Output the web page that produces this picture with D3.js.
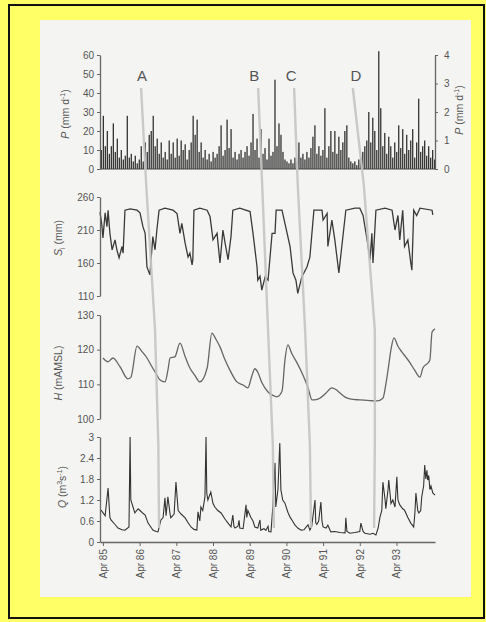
<!DOCTYPE html>
<html>
<head>
<meta charset="utf-8">
<script src="https://cdn.jsdelivr.net/npm/d3@7"></script>
<style>
  body { margin: 0; background: #ffff66; }
  text { font-family: "Liberation Sans", Arial, sans-serif; }
</style>
</head>
<body>
<script>
// rainfall, one bar per ~20 days, mm/d
const pValues = [10,28,12,20,8,12,24,9,16,6,10,5,7,28,6,8,4,7,3,5,
  12,4,14,9,18,20,28,12,16,8,14,6,9,5,15,8,14,6,16,7,
  15,10,13,5,10,14,28,18,26,9,14,6,10,5,8,4,9,6,8,12,
  23,7,10,26,11,21,6,9,5,8,10,6,9,12,7,14,29,10,16,6,
  21,8,11,5,16,7,9,47,12,24,18,9,5,4,3,5,3,6,4,14,
  6,8,5,9,6,11,17,23,8,12,7,10,32,6,12,20,9,20,8,17,
  10,14,20,23,6,4,3,4,2,5,6,9,12,15,30,14,27,20,10,62,
  32,12,19,8,17,12,6,14,9,23,11,21,8,18,10,15,21,6,14,37,
  9,12,15,7,12,6,10,5];

// soil storage S (mm)
const sTimes = [1985.17,1985.22,1985.25,1985.31,1985.36,1985.39,1985.44,1985.50,1985.58,1985.63,
  1985.69,1985.77,1985.80,1985.85,1985.99,1986.18,1986.26,1986.34,1986.40,1986.45,
  1986.53,1986.61,1986.67,1986.72,1986.78,1986.94,1987.16,1987.27,1987.35,1987.40,
  1987.49,1987.57,1987.62,1987.68,1987.70,1987.73,1987.89,1988.09,1988.17,1988.25,
  1988.36,1988.44,1988.52,1988.58,1988.66,1988.74,1988.79,1988.98,1989.26,1989.34,
  1989.45,1989.47,1989.53,1989.58,1989.67,1989.75,1989.86,1989.94,1989.97,1990.13,
  1990.21,1990.35,1990.43,1990.51,1990.56,1990.67,1990.81,1990.89,1991.00,1991.22,
  1991.25,1991.36,1991.38,1991.49,1991.57,1991.68,1991.76,1991.87,1992.12,1992.25,
  1992.34,1992.45,1992.53,1992.58,1992.61,1992.69,1992.94,1993.13,1993.21,1993.29,
  1993.34,1993.42,1993.47,1993.56,1993.64,1993.67,1993.72,1993.80,1993.89,1994.22,1994.24];
const sValues = [237,218,198,236,215,240,205,180,195,180,
  168,185,175,240,242,240,236,215,205,154,
  142,200,180,210,240,243,240,235,205,220,
  190,169,175,157,165,240,243,240,230,195,
  205,160,210,190,165,200,240,243,238,205,
  154,134,140,119,139,134,205,205,240,240,
  220,185,145,134,114,139,154,169,240,240,
  225,235,185,225,195,145,185,240,243,243,
  232,195,165,205,160,240,243,240,210,232,
  195,240,185,195,160,149,240,232,243,240,233];

// groundwater head H (m AMSL)
const hTimes = [1985.25,1985.39,1985.52,1985.72,1985.93,1986.01,1986.18,1986.31,1986.45,1986.59,
  1986.72,1986.80,1986.94,1987.02,1987.08,1987.21,1987.35,1987.49,1987.62,1987.76,
  1987.89,1988.09,1988.22,1988.33,1988.44,1988.58,1988.71,1988.90,1989.07,1989.20,
  1989.31,1989.39,1989.47,1989.58,1989.75,1989.88,1989.99,1990.13,1990.21,1990.29,
  1990.40,1990.54,1990.71,1990.84,1990.95,1991.06,1991.16,1991.33,1991.49,1991.60,
  1991.71,1991.85,1991.98,1992.25,1992.53,1992.72,1992.88,1992.96,1993.02,1993.10,
  1993.18,1993.29,1993.40,1993.51,1993.62,1993.75,1993.89,1993.97,1994.11,1994.16,1994.22,1994.30];
const hValues = [117.6,116.5,117.6,115,111.6,112,121,119.5,117.6,115,
  112.7,111.3,110.7,114,117.6,117.9,121.9,118,114.7,112.5,
  110.7,114.7,124.8,123,120.8,117,114.1,110.7,109.8,109,
  112.5,114.5,113.5,110.5,107.8,106.8,106.4,108,117,121.4,
  118.8,116.2,112.5,109,105.5,105.6,106,107.5,109,108.5,
  107.5,106.3,105.8,105.5,105.3,105.2,106,110,114.1,120,
  123.4,121,119.3,117.8,116.2,114,112.1,114.7,116.2,117,125.1,126];

// discharge Q (m3/s)
const qTimes = [1985.20,1985.31,1985.39,1985.44,1985.47,1985.58,1985.66,1985.77,1985.85,1985.96,
  1985.99,1986.01,1986.07,1986.12,1986.21,1986.26,1986.34,1986.40,1986.48,1986.56,
  1986.61,1986.70,1986.75,1986.83,1986.89,1986.94,1986.97,1987.02,1987.08,1987.10,
  1987.19,1987.24,1987.30,1987.38,1987.49,1987.57,1987.65,1987.73,1987.81,1987.84,
  1987.89,1987.92,1987.97,1988.03,1988.06,1988.08,1988.11,1988.19,1988.25,1988.30,
  1988.38,1988.47,1988.58,1988.66,1988.74,1988.79,1988.82,1988.85,1988.93,1988.96,
  1988.98,1989.07,1989.15,1989.17,1989.20,1989.28,1989.34,1989.39,1989.47,1989.53,
  1989.55,1989.64,1989.69,1989.75,1989.77,1989.83,1989.88,1989.94,1989.96,1990.02,
  1990.07,1990.10,1990.15,1990.21,1990.29,1990.35,1990.43,1990.48,1990.56,1990.65,
  1990.73,1990.78,1990.84,1990.89,1990.94,1991.03,1991.05,1991.08,1991.13,1991.19,
  1991.22,1991.25,1991.33,1991.38,1991.46,1991.57,1991.71,1991.85,1991.87,1991.90,
  1991.98,1992.12,1992.25,1992.28,1992.34,1992.39,1992.53,1992.61,1992.69,1992.75,
  1992.80,1992.85,1992.88,1992.94,1992.96,1993.02,1993.04,1993.10,1993.15,1993.21,
  1993.26,1993.29,1993.34,1993.42,1993.47,1993.56,1993.64,1993.72,1993.75,1993.78,
  1993.83,1993.86,1993.91,1993.94,1993.99,1994.02,1994.05,1994.08,1994.10,1994.13,
  1994.16,1994.19,1994.24,1994.30];
const qValues = [0.91,0.75,1.54,0.7,0.63,0.5,0.40,0.35,0.34,0.43,
  3.0,1.2,1.0,0.83,0.95,0.9,0.82,0.77,0.54,0.42,
  0.34,0.3,0.29,0.63,0.7,1.26,0.75,1.29,0.8,0.69,
  0.8,1.71,0.9,0.8,0.69,0.55,0.43,0.36,0.34,0.86,
  0.6,1.0,0.9,1.29,3.0,1.4,1.2,1.43,1.1,1.0,
  0.9,0.83,0.65,0.54,0.43,0.77,0.45,0.40,0.45,0.62,
  0.40,0.38,1.06,0.7,0.9,0.71,0.6,0.43,0.4,0.63,
  0.34,0.38,0.33,0.45,0.3,0.29,1.0,2.26,1.0,1.5,
  2.83,1.49,1.2,1.11,0.85,0.71,0.58,0.49,0.4,0.34,
  0.35,0.42,0.49,0.34,0.45,1.2,0.55,0.5,0.6,1.14,
  0.6,0.43,0.4,0.48,0.29,0.3,0.27,0.26,0.69,0.3,
  0.25,0.27,0.3,0.54,0.3,0.25,0.22,0.25,0.2,0.4,
  0.71,0.9,1.71,1.2,0.95,1.5,1.77,1.1,1.2,1.0,
  1.86,1.2,1.06,0.95,0.91,0.7,0.54,0.43,0.8,1.4,
  0.9,0.83,0.9,1.3,1.6,2.2,1.8,2.05,1.77,1.9,
  1.5,1.6,1.4,1.34];

const yearTicks = [1985,1986,1987,1988,1989,1990,1991,1992,1993];
const pTicks = [0,10,20,30,40,50,60];
const p2Ticks = [0,1,2,3,4];
const sTicks = [110,160,210,260];
const hTicks = [100,110,120,130];
const qTicks = [0,0.6,1.2,1.8,2.4,3];

// events A-D: time where the grey line crosses each level (top -> bottom)
const eventNames = ["A","B","C","D"];
const eventTimes = [
  [1986.29,1986.43,1986.67,1986.76,1986.78],
  [1989.48,1989.59,1989.75,1989.88,1989.91],
  [1990.46,1990.56,1990.76,1990.89,1990.92],
  [1992.06,1992.36,1992.66,1992.66,1992.64]
];

const W = 486, H = 622;
const svg = d3.select("body").append("svg").attr("width", W).attr("height", H);

// yellow sheet + black frame + grey photo
svg.append("rect").attr("x", 9).attr("y", 5).attr("width", W - 11).attr("height", H - 9)
  .attr("fill", "#ffff66").attr("stroke", "#111").attr("stroke-width", 2);
svg.append("rect").attr("x", 40).attr("y", 20).attr("width", 431).attr("height", 577)
  .attr("fill", "#f4f4f2");

const x = d3.scaleLinear().domain([1985.17, 1994.30]).range([100, 435]);
const yP = d3.scaleLinear().domain([0, 60]).range([169, 55]);
const yP2 = d3.scaleLinear().domain([0, 4]).range([169, 55]);
const yS = d3.scaleLinear().domain([110, 260]).range([296, 197]);
const yH = d3.scaleLinear().domain([100, 130]).range([419, 315]);
const yQ = d3.scaleLinear().domain([0, 3]).range([542, 437]);
const xb = d3.scaleBand().domain(d3.range(pValues.length)).range([100, 436]).padding(0.35);

function styleAxis(g) {
  g.attr("font-family", null).attr("font-size", null);
  g.selectAll("path, line").attr("stroke", "#666");
  g.select(".domain").attr("stroke-width", 1.3);
  g.selectAll("text").attr("fill", "#555").style("font-size", "10px");
}

// P bars
svg.append("g").selectAll("rect").data(pValues).enter()
  .append("rect")
  .attr("x", (d, i) => xb(i))
  .attr("y", d => yP(d))
  .attr("width", xb.bandwidth())
  .attr("height", d => yP(0) - yP(d))
  .attr("fill", "#333");

svg.append("line").attr("x1", x.range()[0]).attr("x2", x.range()[1])
  .attr("y1", yP(0)).attr("y2", yP(0)).attr("stroke", "#444");

svg.append("g").attr("transform", "translate(100,0)")
  .call(d3.axisLeft(yP).tickValues(pTicks).tickSize(3).tickPadding(3).tickSizeOuter(0))
  .call(styleAxis);
svg.append("g").attr("transform", "translate(435,0)")
  .call(d3.axisRight(yP2).tickValues(p2Ticks).tickSize(3).tickPadding(6).tickSizeOuter(0)
    .tickFormat(d3.format("d")))
  .call(styleAxis);

// S line
svg.append("path").datum(sTimes.map((t, i) => [t, sValues[i]]))
  .attr("d", d3.line().x(d => x(d[0])).y(d => yS(d[1])))
  .attr("fill", "none").attr("stroke", "#3a3a3a").attr("stroke-width", 1.3);
svg.append("g").attr("transform", "translate(100,0)")
  .call(d3.axisLeft(yS).tickValues(sTicks).tickSize(3).tickPadding(3).tickSizeOuter(0))
  .call(styleAxis);

// H line
svg.append("path").datum(hTimes.map((t, i) => [t, hValues[i]]))
  .attr("d", d3.line().curve(d3.curveMonotoneX).x(d => x(d[0])).y(d => yH(d[1])))
  .attr("fill", "none").attr("stroke", "#666").attr("stroke-width", 1.3);
svg.append("g").attr("transform", "translate(100,0)")
  .call(d3.axisLeft(yH).tickValues(hTicks).tickSize(3).tickPadding(3).tickSizeOuter(0))
  .call(styleAxis);

// Q line
svg.append("path").datum(qTimes.map((t, i) => [t, qValues[i]]))
  .attr("d", d3.line().x(d => x(d[0])).y(d => yQ(d[1])))
  .attr("fill", "none").attr("stroke", "#333").attr("stroke-width", 1.1);
svg.append("g").attr("transform", "translate(100,0)")
  .call(d3.axisLeft(yQ).tickValues(qTicks).tickSize(3).tickPadding(3).tickSizeOuter(0)
    .tickFormat(d => d === 0 || d === 3 ? d : d3.format(".1f")(d)))
  .call(styleAxis);

const xAxis = svg.append("g").attr("transform", "translate(0," + yQ(0) + ")")
  .call(d3.axisBottom(x).tickValues(yearTicks.map(y => y + 0.25)).tickSize(4).tickSizeOuter(0)
    .tickFormat((d, i) => "Apr " + String(yearTicks[i]).slice(2)))
  .call(styleAxis);
xAxis.selectAll("text")
  .attr("transform", "rotate(-90)")
  .attr("text-anchor", "end")
  .attr("x", -7).attr("y", 0).attr("dy", "0.35em");

// event lines A-D
const levels = [88, 185, 330, 445, 528];
const evLine = d3.line().x(d => x(d[0])).y(d => d[1]);
eventTimes.forEach((ts, k) => {
  svg.append("path").datum(ts.map((t, j) => [t, levels[j]]))
    .attr("d", evLine)
    .attr("fill", "none").attr("stroke", "#c4c4c4").attr("stroke-width", 2.4)
    .attr("opacity", 0.9);
  svg.append("text").attr("x", x(ts[0]) + [1, -4, -3, 3][k]).attr("y", 81)
    .attr("text-anchor", "middle").attr("fill", "#555").style("font-size", "15px")
    .text(eventNames[k]);
});

// axis titles (sm = small raised/lowered part)
function title(cx, cy, parts) {
  const t = svg.append("text").attr("transform", `translate(${cx},${cy}) rotate(-90)`)
    .attr("text-anchor", "middle").attr("fill", "#555").style("font-size", "10.5px");
  parts.forEach(p => {
    const s = t.append("tspan").text(p.t);
    if (p.i) s.attr("font-style", "italic");
    if (p.dy) s.attr("dy", p.dy);
    if (p.sm) s.style("font-size", "7px");
  });
}
const pTitle = [{t: "P", i: 1}, {t: " (mm d"}, {t: "-1", dy: -4, sm: 1}, {t: ")", dy: 4}];
title(69, 114, pTitle);
title(463, 110, pTitle);
title(62, 238, [{t: "S", i: 1}, {t: "i", dy: 3, sm: 1}, {t: " (mm)", dy: -3}]);
title(62, 373, [{t: "H", i: 1}, {t: " (mAMSL)"}]);
title(66, 487, [{t: "Q", i: 1}, {t: " (m"}, {t: "3", dy: -4, sm: 1}, {t: "s", dy: 4},
  {t: "-1", dy: -4, sm: 1}, {t: ")", dy: 4}]);
</script>
</body>
</html>
